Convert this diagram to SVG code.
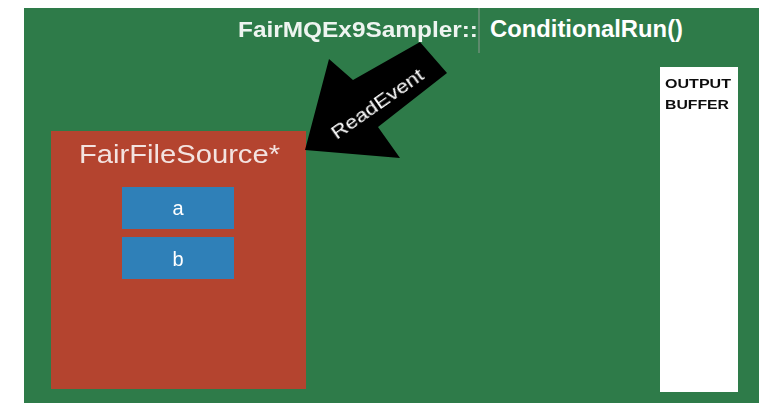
<svg xmlns="http://www.w3.org/2000/svg" width="761" height="403" viewBox="0 0 761 403">
  <defs>
    <filter id="soft" x="-5%" y="-20%" width="110%" height="140%">
      <feGaussianBlur stdDeviation="0.7"/>
    </filter>
    <style>
      .lbl { font-family: "Liberation Sans", Arial, sans-serif; fill: #ffffff; }
      .bold { font-weight: bold; }
      .src { fill: #b4442f; }
      .slot { fill: #2f80b8; }
    </style>
  </defs>

  <!-- page and stage background -->
  <rect x="0" y="0" width="761" height="403" fill="#ffffff"/>
  <rect x="24" y="8" width="735" height="395" fill="#2e7b49"/>

  <!-- title -->
  <g id="title">
    <text class="lbl bold" x="238" y="37" font-size="22" textLength="240" lengthAdjust="spacingAndGlyphs" filter="url(#soft)" opacity="0.92">FairMQEx9Sampler::</text>
    <line x1="479" y1="8" x2="479" y2="53" stroke="#8c9a90" stroke-width="1"/>
    <text class="lbl bold" x="490" y="37" font-size="23" textLength="193" lengthAdjust="spacingAndGlyphs">ConditionalRun()</text>
  </g>

  <!-- source node with its two data slots -->
  <g id="source">
    <rect class="src" x="51" y="131" width="255" height="258"/>
    <text class="lbl" x="79" y="163" font-size="26" textLength="201" lengthAdjust="spacingAndGlyphs" filter="url(#soft)" opacity="0.85">FairFileSource*</text>
  </g>
  <g id="slot-a">
    <rect class="slot" x="122" y="187" width="112" height="42"/>
    <text class="lbl" x="178" y="215" font-size="20" text-anchor="middle" filter="url(#soft)">a</text>
  </g>
  <g id="slot-b">
    <rect class="slot" x="122" y="237" width="112" height="42"/>
    <text class="lbl" x="178" y="266" font-size="20" text-anchor="middle" filter="url(#soft)">b</text>
  </g>

  <!-- output buffer -->
  <g id="output-buffer">
    <rect x="660" y="67" width="78" height="325" fill="#ffffff"/>
    <text class="bold" x="665" y="88" font-size="13" font-family="Liberation Sans, Arial, sans-serif" fill="#111111" textLength="66" lengthAdjust="spacingAndGlyphs" filter="url(#soft)">OUTPUT</text>
    <text class="bold" x="665" y="109" font-size="13" font-family="Liberation Sans, Arial, sans-serif" fill="#111111" textLength="64" lengthAdjust="spacingAndGlyphs" filter="url(#soft)">BUFFER</text>
  </g>

  <!-- connectors -->
  <g id="connectors">
    <g id="read-event">
      <polygon points="305,150 329,59 353,80 420,42 447,73 378,127 400,158" fill="#000000"/>
      <text class="lbl" x="0" y="0" font-size="18" text-anchor="middle" textLength="108" lengthAdjust="spacingAndGlyphs" transform="translate(381,109) rotate(-35)" filter="url(#soft)">ReadEvent</text>
    </g>
  </g>
</svg>
